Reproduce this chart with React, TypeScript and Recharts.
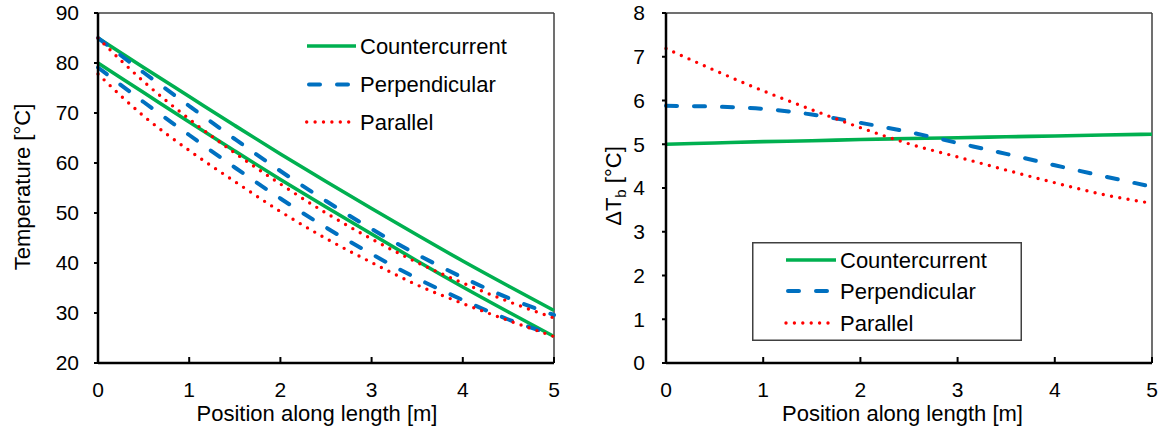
import React from 'react';
import { LineChart, Line, XAxis, YAxis, ReferenceLine, Legend } from 'recharts';

// ---------- data ----------
const positions = [0, 0.5, 1, 1.5, 2, 2.5, 3, 3.5, 4, 4.5, 5];

const counterHot = [85, 79.1, 73.3, 67.5, 61.8, 56.3, 50.9, 45.6, 40.4, 35.4, 30.5];
const counterCold = [80, 74.1, 68.2, 62.4, 56.7, 51.2, 45.8, 40.4, 35.2, 30.2, 25.3];
const perpHot = [85, 78.1, 71.4, 64.8, 58.4, 52.4, 46.8, 41.7, 37.1, 33.0, 29.6];
const perpCold = [79.1, 72.2, 65.6, 59.1, 52.9, 47.1, 41.8, 36.9, 32.6, 28.7, 25.6];
const parHot = [85, 76.3, 68.8, 62.0, 55.8, 50.0, 44.8, 40.1, 36.0, 32.3, 29.0];
const parCold = [77.8, 69.4, 62.5, 56.3, 50.3, 44.9, 40.1, 35.6, 31.9, 28.5, 25.3];

const dtCounter = [5.0, 5.03, 5.06, 5.08, 5.11, 5.13, 5.15, 5.17, 5.19, 5.21, 5.23];
const dtPerp = [5.88, 5.86, 5.81, 5.68, 5.49, 5.28, 5.03, 4.78, 4.52, 4.27, 4.03];
const dtPar = [7.19, 6.69, 6.22, 5.79, 5.38, 5.01, 4.71, 4.41, 4.12, 3.85, 3.65];

const seriesNames = ['Countercurrent', 'Perpendicular', 'Parallel'];
const xTicks = [0, 1, 2, 3, 4, 5];
const tempTicks = [20, 30, 40, 50, 60, 70, 80, 90];
const dtTicks = [0, 1, 2, 3, 4, 5, 6, 7, 8];

const xTitle = 'Position along length [m]';
const tempTitle = 'Temperature [°C]';

const tempData = positions.map((x, i) => ({
  x,
  counterHot: counterHot[i],
  counterCold: counterCold[i],
  perpHot: perpHot[i],
  perpCold: perpCold[i],
  parHot: parHot[i],
  parCold: parCold[i],
}));

const dtData = positions.map((x, i) => ({
  x,
  counter: dtCounter[i],
  perp: dtPerp[i],
  par: dtPar[i],
}));

// ---------- styles ----------
const FONT = '"Liberation Sans", Arial, Helvetica, sans-serif';
const GREEN = '#00B050';
const BLUE = '#0070C0';
const RED = '#FF0000';

const lineStyles: any[] = [
  { stroke: GREEN, strokeWidth: 3.6, strokeLinecap: 'butt' },
  { stroke: BLUE, strokeWidth: 4, strokeDasharray: '11 17', strokeLinecap: 'round' },
  { stroke: RED, strokeWidth: 3.4, strokeDasharray: '0 8.4', strokeLinecap: 'round' },
];

const axisLine = { stroke: '#000', strokeWidth: 2.5 };
const tickLine = { stroke: '#000', strokeWidth: 2 };
const tickStyle = { fill: '#000', fontSize: 21, fontFamily: FONT };

type LegendSpec = {
  width: number;
  height: number;
  rows: number[];
  segs: [number, number][];
  textX: number;
  border: boolean;
};

function LegendBox({ spec }: { spec: LegendSpec }) {
  return (
    <svg width={spec.width} height={spec.height} style={{ display: 'block', overflow: 'visible' }}>
      {spec.border && (
        <rect
          x={0.75}
          y={0.75}
          width={spec.width - 1.5}
          height={spec.height - 1.5}
          fill="#fff"
          stroke="#404040"
          strokeWidth={1.5}
        />
      )}
      {seriesNames.map((name, i) => (
        <g key={name}>
          <line
            x1={spec.segs[i][0]}
            x2={spec.segs[i][1]}
            y1={spec.rows[i]}
            y2={spec.rows[i]}
            {...lineStyles[i]}
          />
          <text
            x={spec.textX}
            y={spec.rows[i]}
            dy="0.36em"
            fontSize={22}
            fontFamily={FONT}
            fill="#000"
          >
            {name}
          </text>
        </g>
      ))}
    </svg>
  );
}

const leftLegend: LegendSpec = {
  width: 230,
  height: 115,
  rows: [21, 59.5, 97],
  segs: [
    [7, 56],
    [9, 50],
    [6.7, 51],
  ],
  textX: 60,
  border: false,
};

const rightLegend: LegendSpec = {
  width: 270,
  height: 99,
  rows: [18, 49, 81],
  segs: [
    [34, 84],
    [36, 80],
    [34, 79],
  ],
  textX: 88,
  border: true,
};

export default function App() {
  return (
    <div
      style={{
        position: 'absolute',
        left: 0,
        top: 0,
        width: 1162,
        height: 430,
        background: '#fff',
        fontFamily: FONT,
      }}
    >
      {/* Left: temperatures */}
      <div style={{ position: 'absolute', left: 0, top: 0 }}>
        <LineChart
          width={580}
          height={430}
          data={tempData}
          margin={{ top: 13, right: 26, bottom: 0, left: 38 }}
        >
          <XAxis
            dataKey="x"
            type="number"
            domain={[0, 5]}
            ticks={xTicks}
            interval={0}
            height={67}
            tickSize={-6}
            tickMargin={25}
            axisLine={axisLine}
            tickLine={tickLine}
            tick={tickStyle}
          />
          <YAxis
            type="number"
            domain={[20, 90]}
            ticks={tempTicks}
            interval={0}
            width={60}
            tickSize={4}
            tickMargin={15}
            axisLine={axisLine}
            tickLine={tickLine}
            tick={tickStyle}
          />
          <ReferenceLine y={90} stroke="#404040" strokeWidth={1.5} />
          <ReferenceLine x={5} stroke="#404040" strokeWidth={1.5} />
          <Line dataKey="counterHot" type="monotone" dot={false} activeDot={false} isAnimationActive={false} legendType="none" {...lineStyles[0]} />
          <Line dataKey="counterCold" type="monotone" dot={false} activeDot={false} isAnimationActive={false} legendType="none" {...lineStyles[0]} />
          <Line dataKey="perpHot" type="monotone" dot={false} activeDot={false} isAnimationActive={false} legendType="none" {...lineStyles[1]} />
          <Line dataKey="perpCold" type="monotone" dot={false} activeDot={false} isAnimationActive={false} legendType="none" {...lineStyles[1]} />
          <Line dataKey="parHot" type="monotone" dot={false} activeDot={false} isAnimationActive={false} legendType="none" {...lineStyles[2]} />
          <Line dataKey="parCold" type="monotone" dot={false} activeDot={false} isAnimationActive={false} legendType="none" {...lineStyles[2]} />
          <Legend
            layout="horizontal"
            verticalAlign="middle"
            align="center"
            content={() => <LegendBox spec={leftLegend} />}
            wrapperStyle={{ left: 300, top: 25, width: 230, height: 115 }}
          />
          <text
            x={29.5}
            y={187}
            transform="rotate(-90 29.5 187)"
            textAnchor="middle"
            fontSize={22}
            fontFamily={FONT}
            fill="#000"
          >
            {tempTitle}
          </text>
          <text x={317} y={421} textAnchor="middle" fontSize={22} fontFamily={FONT} fill="#000">
            {xTitle}
          </text>
        </LineChart>
      </div>

      {/* Right: delta T */}
      <div style={{ position: 'absolute', left: 580, top: 0 }}>
        <LineChart
          width={582}
          height={430}
          data={dtData}
          margin={{ top: 13, right: 10, bottom: 0, left: 26 }}
        >
          <XAxis
            dataKey="x"
            type="number"
            domain={[0, 5]}
            ticks={xTicks}
            interval={0}
            height={67}
            tickSize={-6}
            tickMargin={25}
            axisLine={axisLine}
            tickLine={tickLine}
            tick={tickStyle}
          />
          <YAxis
            type="number"
            domain={[0, 8]}
            ticks={dtTicks}
            interval={0}
            width={60}
            tickSize={4}
            tickMargin={17}
            axisLine={axisLine}
            tickLine={tickLine}
            tick={tickStyle}
          />
          <ReferenceLine y={8} stroke="#404040" strokeWidth={1.5} />
          <ReferenceLine x={5} stroke="#404040" strokeWidth={1.5} />
          <Line dataKey="counter" name={seriesNames[0]} type="monotone" dot={false} activeDot={false} isAnimationActive={false} {...lineStyles[0]} />
          <Line dataKey="perp" name={seriesNames[1]} type="monotone" dot={false} activeDot={false} isAnimationActive={false} {...lineStyles[1]} />
          <Line dataKey="par" name={seriesNames[2]} type="monotone" dot={false} activeDot={false} isAnimationActive={false} {...lineStyles[2]} />
          <Legend
            layout="horizontal"
            verticalAlign="middle"
            align="center"
            content={() => <LegendBox spec={rightLegend} />}
            wrapperStyle={{ left: 172, top: 242, width: 270, height: 99 }}
          />
          <text
            x={41}
            y={186}
            transform="rotate(-90 41 186)"
            textAnchor="middle"
            fontSize={22}
            fontFamily={FONT}
            fill="#000"
            style={{ whiteSpace: 'pre' }}
          >
            <tspan>ΔT</tspan>
            <tspan fontSize={15} dy={5}>b</tspan>
            <tspan dy={-5}> [°C]</tspan>
          </text>
          <text x={322.5} y={421} textAnchor="middle" fontSize={22} fontFamily={FONT} fill="#000">
            {xTitle}
          </text>
        </LineChart>
      </div>
    </div>
  );
}
